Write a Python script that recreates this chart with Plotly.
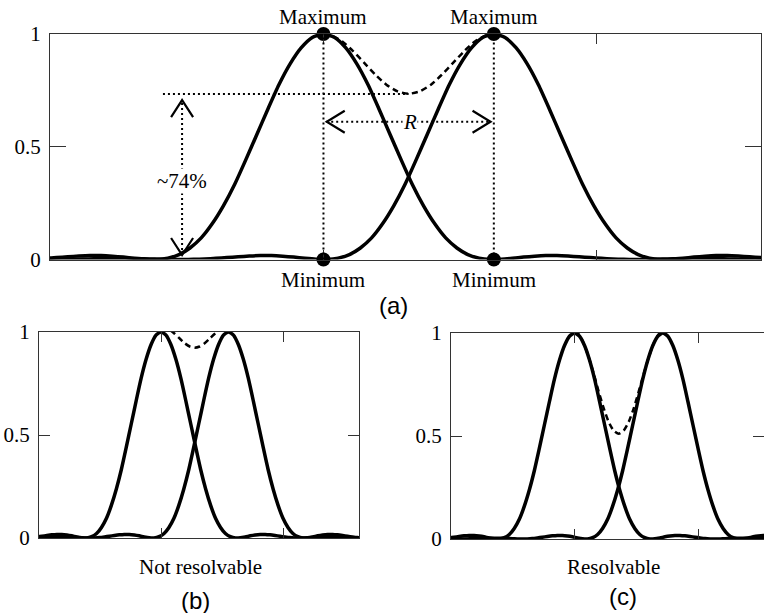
import plotly.graph_objects as go

# ---------------- data ----------------
# single diffraction (Airy-like) profile: offset from its peak (x units) and normalized intensity
psf_offset = [0.000, 0.041, 0.081, 0.122, 0.163, 0.203, 0.244, 0.285, 0.325, 0.366,
              0.407, 0.447, 0.488, 0.528, 0.569, 0.610, 0.650, 0.691, 0.732, 0.772,
              0.813, 0.854, 0.894, 0.935, 0.976, 1.016, 1.057, 1.098, 1.138, 1.179,
              1.220, 1.260, 1.301, 1.341, 1.382, 1.423, 1.463, 1.504, 1.545, 1.585,
              1.626, 1.667, 1.707, 1.748, 1.789]
psf_value = [1.0000, 0.9845, 0.9391, 0.8673, 0.7746, 0.6675, 0.5534, 0.4396, 0.3326, 0.2378,
             0.1581, 0.0957, 0.0511, 0.0218, 0.0062, 0.0003, 0.0011, 0.0052, 0.0106, 0.0146,
             0.0172, 0.0173, 0.0154, 0.0122, 0.0085, 0.0051, 0.0022, 0.0006, 0.0000, 0.0004,
             0.0013, 0.0024, 0.0034, 0.0040, 0.0041, 0.0037, 0.0030, 0.0021, 0.0012, 0.0005,
             0.0001, 0.0000, 0.0002, 0.0006, 0.0010]

# peak positions of the two point images in each panel
peaks_a = [1.0, 1.623]
peaks_b = [1.0, 1.553]
peaks_c = [1.0, 1.715]

# summed intensity (dashed), offset from the left peak and value
sum_a_offset = [0.0, 0.027, 0.068, 0.108, 0.149, 0.190, 0.230, 0.271, 0.312,
                0.352, 0.393, 0.433, 0.474, 0.515, 0.555, 0.596, 0.623]
sum_a_value = [1.0, 0.9945, 0.9678, 0.9244, 0.8721, 0.8196, 0.7752, 0.7455, 0.7351,
               0.7455, 0.7752, 0.8196, 0.8721, 0.9244, 0.9678, 0.9945, 1.0]
sum_b_offset = [0.0, 0.033, 0.073, 0.114, 0.155, 0.195, 0.236, 0.276, 0.317,
                0.358, 0.398, 0.439, 0.480, 0.520, 0.553]
sum_b_value = [1.0111, 1.0167, 1.0092, 0.9906, 0.9672, 0.9452, 0.9296, 0.9240, 0.9296,
               0.9452, 0.9672, 0.9906, 1.0092, 1.0167, 1.0111]
sum_c_offset = [0.0, 0.033, 0.073, 0.114, 0.155, 0.195, 0.236, 0.276, 0.317, 0.358,
                0.398, 0.439, 0.480, 0.520, 0.561, 0.602, 0.642, 0.683, 0.715]
sum_c_value = [1.0082, 0.9942, 0.9510, 0.8845, 0.8030, 0.7164, 0.6352, 0.5690, 0.5259, 0.5109,
               0.5259, 0.5690, 0.6352, 0.7164, 0.8030, 0.8845, 0.9510, 0.9942, 1.0082]

level_a = 0.734          # ~74 % level of the dip
y_ticks = [0, 0.5, 1]
y_tick_text = ["0", "0.5", "1"]
x_ticks = [0, 1, 2]

# ---------------- figure ----------------
SERIF = "Liberation Serif, Times New Roman, serif"
SANS = "Liberation Sans, Arial, sans-serif"
W, H = 764, 613

fig = go.Figure()


def profile(center):
    xs = [center - o for o in reversed(psf_offset[1:])] + [center + o for o in psf_offset]
    ys = list(reversed(psf_value[1:])) + psf_value
    return xs, ys


def add_panel(peaks, s_off, s_val, xa, ya):
    for c in peaks:
        xs, ys = profile(c)
        fig.add_trace(go.Scatter(x=xs, y=ys, mode="lines", xaxis=xa, yaxis=ya,
                                 line=dict(color="black", width=3.5, shape="spline", smoothing=0.6),
                                 showlegend=False, hoverinfo="skip"))
    fig.add_trace(go.Scatter(x=[peaks[0] + o for o in s_off], y=s_val, mode="lines",
                             xaxis=xa, yaxis=ya,
                             line=dict(color="black", width=2.5, dash="6px,4px",
                                       shape="spline", smoothing=0.6),
                             showlegend=False, hoverinfo="skip"))


add_panel(peaks_a, sum_a_offset, sum_a_value, "x", "y")
add_panel(peaks_b, sum_b_offset, sum_b_value, "x2", "y2")
add_panel(peaks_c, sum_c_offset, sum_c_value, "x3", "y3")

# maxima / minima dots in (a)
fig.add_trace(go.Scatter(x=peaks_a + peaks_a, y=[1, 1, 0, 0], mode="markers",
                         marker=dict(color="black", size=14), cliponaxis=False,
                         showlegend=False, hoverinfo="skip"))

DOT = dict(color="black", width=2, dash="2px,3px")
shapes = []
for p in peaks_a:
    shapes.append(dict(type="line", xref="x", yref="y", x0=p, x1=p, y0=0, y1=1, line=DOT))
arrow_x = 0.483
shapes.append(dict(type="line", xref="x", yref="y", x0=0.413, x1=(peaks_a[0] + peaks_a[1]) / 2,
                   y0=level_a, y1=level_a, line=DOT))
shapes.append(dict(type="line", xref="x", yref="y", x0=arrow_x, x1=arrow_x, y0=0.02,
                   y1=level_a - 0.03, line=DOT))
r_y = 0.611
shapes.append(dict(type="line", xref="x", yref="y", x0=peaks_a[0] + 0.01, x1=peaks_a[1] - 0.01,
                   y0=r_y, y1=r_y, line=DOT))


def chevron(x, y, path):
    return dict(type="path", xref="x", yref="y", xsizemode="pixel", ysizemode="pixel",
                xanchor=x, yanchor=y, path=path, line=dict(color="black", width=2.2))


shapes.append(chevron(arrow_x, level_a - 0.027, "M -11,-17 L 0,0 L 11,-17"))
shapes.append(chevron(arrow_x, 0.02, "M -11,17 L 0,0 L 11,17"))
shapes.append(chevron(peaks_a[0] + 0.012, r_y, "M 18,11 L 0,0 L 18,-11"))
shapes.append(chevron(peaks_a[1] - 0.012, r_y, "M -18,11 L 0,0 L -18,-11"))

ann = []
for p in peaks_a:
    ann.append(dict(x=p, y=1, xref="x", yref="y", text="Maximum", showarrow=False,
                    xanchor="center", yanchor="bottom", yshift=3,
                    font=dict(family=SERIF, size=21, color="black")))
    ann.append(dict(x=p, y=0, xref="x", yref="y", text="Minimum", showarrow=False,
                    xanchor="center", yanchor="top", yshift=-6,
                    font=dict(family=SERIF, size=21, color="black")))
ann.append(dict(x=arrow_x, y=0.35, xref="x", yref="y", text="~74%", showarrow=False,
                xanchor="center", yanchor="middle",
                bgcolor="white", borderpad=0, font=dict(family=SERIF, size=21, color="black")))
ann.append(dict(x=1.316, y=r_y, xref="x", yref="y", text="<i>R</i>", showarrow=False,
                xanchor="center", yanchor="middle",
                bgcolor="white", borderpad=0, font=dict(family=SERIF, size=21, color="black")))
ann.append(dict(x=200 / W, y=1 - 567 / H, xref="paper", yref="paper", text="Not resolvable",
                xanchor="center", yanchor="middle",
                showarrow=False, font=dict(family=SERIF, size=21, color="black")))
ann.append(dict(x=613 / W, y=1 - 567 / H, xref="paper", yref="paper", text="Resolvable",
                xanchor="center", yanchor="middle",
                showarrow=False, font=dict(family=SERIF, size=21, color="black")))
for txt, px, py in [("(a)", 393, 306), ("(b)", 195, 600), ("(c)", 623, 596)]:
    ann.append(dict(x=px / W, y=1 - py / H, xref="paper", yref="paper", text=txt,
                    xanchor="center", yanchor="middle",
                    showarrow=False, font=dict(family=SANS, size=24, color="black")))

xcommon = dict(showline=True, mirror="ticks", linecolor="#333", linewidth=1, ticks="inside",
               ticklen=10, tickcolor="#333", tickvals=x_ticks, showticklabels=False,
               showgrid=False, zeroline=False, fixedrange=True, automargin=False)
ycommon = dict(showline=True, mirror="ticks", linecolor="#333", linewidth=1, ticks="inside",
               tickcolor="#333", tickvals=y_ticks, ticktext=y_tick_text, range=[0, 1],
               showgrid=False, zeroline=False, ticklabelstandoff=4, automargin=False,
               tickfont=dict(family=SERIF, size=21, color="black"))

fig.update_layout(
    width=W, height=H, margin=dict(l=0, r=0, t=0, b=0, pad=0, autoexpand=False),
    paper_bgcolor="white", plot_bgcolor="white", showlegend=False,
    xaxis=dict(xcommon, domain=[50 / W, 761 / W], range=[0, 2.6], anchor="y"),
    yaxis=dict(ycommon, domain=[1 - 259.5 / H, 1 - 34 / H], anchor="x", ticklen=16),
    xaxis2=dict(xcommon, domain=[39 / W, 359 / W], range=[0, 2.623], anchor="y2"),
    yaxis2=dict(ycommon, domain=[1 - 538 / H, 1 - 332 / H], anchor="x2", ticklen=11),
    xaxis3=dict(xcommon, domain=[451 / W, 1.0], range=[0, 2.534], anchor="y3"),
    yaxis3=dict(ycommon, domain=[1 - 539 / H, 1 - 333 / H], anchor="x3", ticklen=11),
    shapes=shapes, annotations=ann,
)

fig.write_html("out.html")
